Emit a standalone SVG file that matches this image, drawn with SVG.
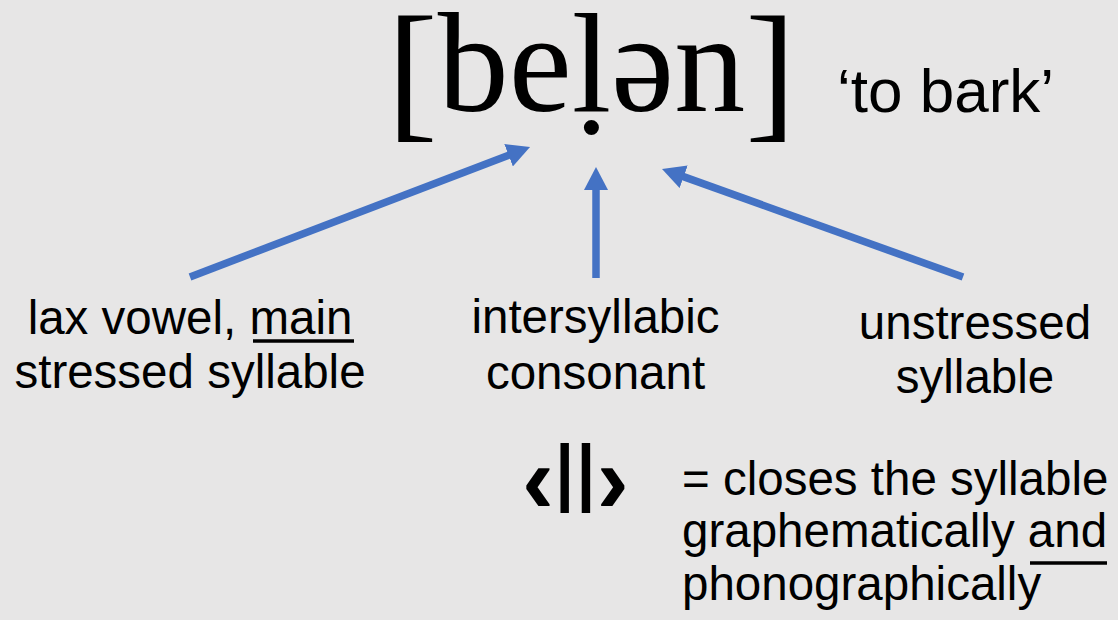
<svg xmlns="http://www.w3.org/2000/svg" width="1118" height="620" viewBox="0 0 1118 620">
<defs>
<style>
.lbl{font-family:"Liberation Sans",Arial,sans-serif;font-size:47.5px;fill:#000;text-anchor:middle}
.ipa{font-family:"Liberation Serif","Times New Roman",serif;font-size:142px;fill:#000;text-anchor:middle}
.br{font-size:152px}
.arr{stroke:#4472C4;stroke-width:7.5;fill:none;marker-end:url(#ah)}
.ul{stroke:#000;stroke-width:3.5}
.txt{font-family:"Liberation Sans",Arial,sans-serif;font-size:47.5px;fill:#000}
</style>
<marker id="ah" markerUnits="userSpaceOnUse" markerWidth="24" markerHeight="24" refX="4" refY="12" orient="auto" viewBox="0 0 24 24">
<path d="M0,0 L23,12 L0,24 z" fill="#4472C4"/>
</marker>
</defs>
<rect width="1118" height="620" fill="#E7E6E6"/>
<g id="word">
<text class="ipa" x="591.5" y="111"><tspan class="br" dy="11">[</tspan><tspan dy="-11">beḷən</tspan><tspan class="br" dy="11">]</tspan></text>
</g>
<g id="gloss">
<text x="837" y="112" font-family="'Liberation Sans',Arial,sans-serif" font-size="62" fill="#000">‘to bark’</text>
</g>
<g id="connectors">
<line class="arr" x1="190" y1="277" x2="512.3" y2="153.8"/>
<line class="arr" x1="596" y1="278" x2="596" y2="186"/>
<line class="arr" x1="963" y1="277" x2="679.9" y2="175.4"/>
</g>
<g id="lax">
<text class="lbl" x="190" y="334">lax vowel, main</text>
<line class="ul" x1="253" y1="341" x2="354" y2="341"/>
<text class="lbl" x="190" y="388">stressed syllable</text>
</g>
<g id="inter">
<text class="lbl" x="595.5" y="333">intersyllabic</text>
<text class="lbl" x="595.5" y="389">consonant</text>
</g>
<g id="unstressed">
<text class="lbl" x="975" y="339">unstressed</text>
<text class="lbl" x="975" y="393">syllable</text>
</g>
<g id="symbol">
<text x="522" y="513" font-family="'Liberation Sans',Arial,sans-serif" font-size="96" fill="#000"><tspan font-weight="bold">‹</tspan>ll<tspan font-weight="bold">›</tspan></text>
</g>
<g id="explanation">
<text class="txt" x="682" y="495">= closes the syllable</text>
<text class="txt" x="682" y="547">graphematically and</text>
<line class="ul" x1="1030" y1="563" x2="1107" y2="563"/>
<text class="txt" x="682" y="600">phonographically</text>
</g>
</svg>
